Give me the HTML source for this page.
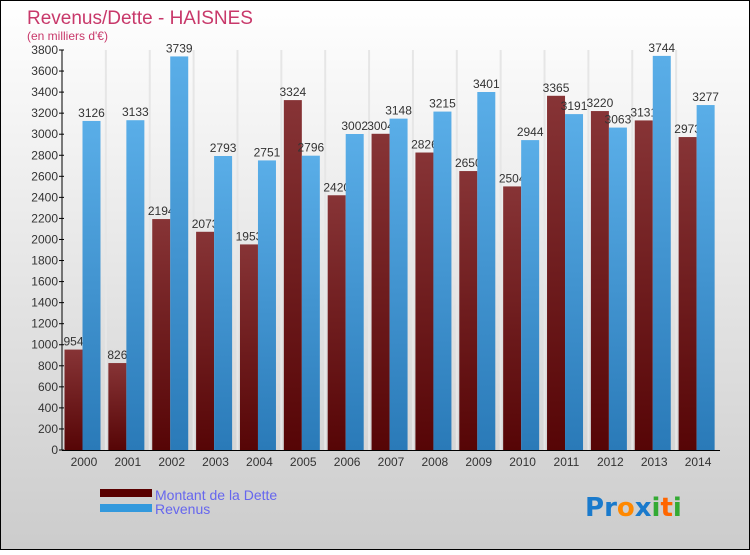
<!DOCTYPE html>
<html><head><meta charset="utf-8"><style>
html,body{margin:0;padding:0;}
body{width:750px;height:550px;overflow:hidden;font-family:"Liberation Sans",sans-serif;}
</style></head><body>
<svg id="chart" width="750" height="550" xmlns="http://www.w3.org/2000/svg">
<defs>
<linearGradient id="bg" x1="0" y1="0" x2="0" y2="1"><stop offset="0" stop-color="#ffffff"/><stop offset="1" stop-color="#cccccc"/></linearGradient>
<linearGradient id="gd" x1="0" y1="0" x2="0" y2="1"><stop offset="0" stop-color="#873436"/><stop offset="1" stop-color="#560506"/></linearGradient>
<linearGradient id="gr" x1="0" y1="0" x2="0" y2="1"><stop offset="0" stop-color="#5aaee8"/><stop offset="1" stop-color="#2a7ab8"/></linearGradient>
</defs>
<rect x="0.5" y="0.5" width="749" height="549" fill="url(#bg)" stroke="#000"/>
<text x="27" y="24" font-size="19" fill="#c8386a">Revenus/Dette - HAISNES</text>
<text x="27" y="40" font-size="12" fill="#c8386a">(en milliers d'€)</text>
<g id="grid"></g><g id="bars"></g><g id="axes"></g>
<rect x="100" y="489" width="52" height="8" fill="#5a0000"/>
<rect x="100" y="504" width="52" height="8" fill="#3399dd"/>
<text x="155" y="500" font-size="14" fill="#6666ee">Montant de la Dette</text>
<text x="155" y="514" font-size="14" fill="#6666ee">Revenus</text>
<text x="585" y="516" font-size="26" font-weight="bold" font-family="'DejaVu Sans',sans-serif"><tspan fill="#1a7acc">P</tspan><tspan fill="#1a7acc">r</tspan><tspan fill="#ff8800">o</tspan><tspan fill="#1a7acc">x</tspan><tspan fill="#33aa33">i</tspan><tspan fill="#ff6600">t</tspan><tspan fill="#33aa33">i</tspan></text>
</svg>
<script>
const years=["2000","2001","2002","2003","2004","2005","2006","2007","2008","2009","2010","2011","2012","2013","2014"];
const dette=[954,826,2194,2073,1953,3324,2420,3004,2826,2650,2504,3365,3220,3131,2973];
const revenus=[3126,3133,3739,2793,2751,2796,3002,3148,3215,3401,2944,3191,3063,3744,3277];
const yTicks=[0,200,400,600,800,1000,1200,1400,1600,1800,2000,2200,2400,2600,2800,3000,3200,3400,3600,3800];
const NS="http://www.w3.org/2000/svg";
const X0=62,X1=720,Y0=450,Y1=50,YMAX=3800;
const gw=(X1-X0)/years.length;
const y=v=>Y0-(v/YMAX)*(Y0-Y1);
function mk(t,a,p){const e=document.createElementNS(NS,t);for(const k in a)e.setAttribute(k,a[k]);p.appendChild(e);return e;}
const grid=document.getElementById('grid'),bars=document.getElementById('bars'),axes=document.getElementById('axes');
for(let i=1;i<years.length;i++){const l=mk('line',{x1:X0+i*gw,x2:X0+i*gw,y1:Y1,y2:Y0,stroke:'#e6e6e6','stroke-width':2},grid);

}
years.forEach((yr,i)=>{
  const gx=X0+i*gw+2.5;
  const b1=mk('rect',{x:gx,y:y(dette[i]),width:18,height:Y0-y(dette[i]),fill:'url(#gd)'},bars);
  
  
  const t1=mk('text',{x:gx+9,y:y(dette[i])-4,'font-size':12,'text-anchor':'middle',fill:'#333'},bars);t1.textContent=dette[i];
  
  
  const b2=mk('rect',{x:gx+18,y:y(revenus[i]),width:18,height:Y0-y(revenus[i]),fill:'url(#gr)'},bars);
  
  
  const t2=mk('text',{x:gx+27,y:y(revenus[i])-4,'font-size':12,'text-anchor':'middle',fill:'#333'},bars);t2.textContent=revenus[i];
  
  
  const xl=mk('text',{x:X0+i*gw+gw/2,y:466,'font-size':12,'text-anchor':'middle',fill:'#333'},axes);xl.textContent=yr;
  
  
});
const ya=mk('line',{x1:X0,x2:X0,y1:Y1,y2:Y0,stroke:'#000'},axes);


const xa=mk('line',{x1:X0,x2:X1,y1:Y0+0.5,y2:Y0+0.5,stroke:'#000'},axes);


yTicks.forEach(v=>{
  mk('line',{x1:X0-3,x2:X0+2,y1:y(v),y2:y(v),stroke:'#000'},axes);
  const t=mk('text',{x:X0-4,y:y(v)+4,'font-size':12,'text-anchor':'end',fill:'#333'},axes);t.textContent=v;
  
  
});
</script>
</body></html>
